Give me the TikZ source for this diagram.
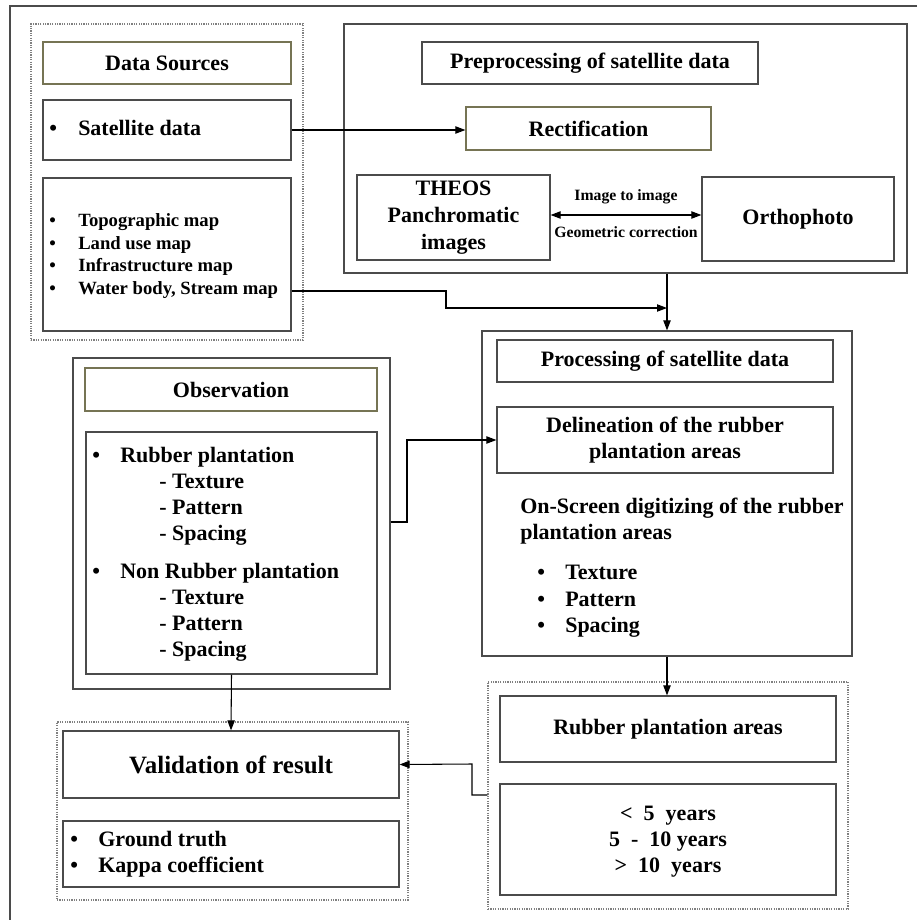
\documentclass[tikz,border=0pt]{standalone}
\usepackage{fontspec}
\setmainfont{Liberation Serif}
\usetikzlibrary{arrows.meta,fit}
\definecolor{olivebd}{RGB}{118,116,84}
\definecolor{linegray}{RGB}{75,75,75}
\begin{document}
\begin{tikzpicture}[x=0.75pt,y=-0.75pt,
  box/.style={draw=linegray, line width=0.9pt, inner sep=0pt},
  hbox/.style={box, draw=olivebd},
  dotbox/.style={draw=gray, line width=0.8pt, dash pattern=on 0.9pt off 0.9pt, inner sep=0pt},
  ctxt/.style={font=\bfseries\fontsize{16.5}{20}\selectfont, inner sep=0pt, align=center, anchor=center},
  txt/.style={font=\bfseries\fontsize{16.5}{20}\selectfont, inner sep=0pt, anchor=base west},
  stxt/.style={font=\bfseries\fontsize{14}{17}\selectfont, inner sep=0pt, anchor=base west},
  lbl/.style={font=\bfseries\fontsize{11.8}{14}\selectfont, inner sep=0pt, anchor=base},
  ytxt/.style={font=\bfseries\fontsize{16.5}{20}\selectfont, inner sep=0pt, anchor=base},
  conn/.style={draw=black, line width=0.8pt, -{Triangle[length=7.5pt,width=5.5pt]}},
]
\useasboundingbox (0,0) rectangle (917,920);
% outer frame (right and bottom edges lie outside the picture)
\draw[linegray, line width=1pt] (917,6) -- (10,6) -- (10,920);

% ---------- Data sources ----------
\node[dotbox, fit={(31,24) (303,340)}] (dsgroup) {};
\node[hbox, fit={(43,42) (291,84)}] (dshead) {};
\node[ctxt] (dsheadt) at (dshead.center) {Data Sources};
\node[box, fit={(43,100) (291,160)}] (satbox) {};
\node[txt] (satb) at (49,136) {\textbullet};
\node[txt] (satt) at (78,136) {Satellite data};
\node[box, fit={(43,178) (291,331)}] (mapsbox) {};
\node[stxt] (m1b) at (49,226) {\textbullet};
\node[stxt] (m1) at (78,226) {Topographic map};
\node[stxt] (m2b) at (49,249) {\textbullet};
\node[stxt] (m2) at (78,249) {Land use map};
\node[stxt] (m3b) at (49,271) {\textbullet};
\node[stxt] (m3) at (78,271) {Infrastructure map};
\node[stxt] (m4b) at (49,294) {\textbullet};
\node[stxt] (m4) at (78,294) {Water body, Stream map};

% ---------- Preprocessing ----------
\node[box, fit={(344,24) (907,273)}] (prepro) {};
\node[box, fit={(422,42) (758,84)}] (prehead) {};
\node[ctxt] (preheadt) at (prehead.center) {Preprocessing of satellite data};
\node[hbox, fit={(466,107) (711,150)}] (rect) {};
\node[ctxt] (rectt) at (rect.center) {Rectification};
\node[box, fit={(357,175) (550,260)}] (theos) {};
\node[ctxt, font=\bfseries\fontsize{16.5}{20}\selectfont] (theost) at (theos.center) {THEOS\\Panchromatic\\images};
\node[box, fit={(702,177) (894,261)}] (ortho) {};
\node[ctxt] (orthot) at (ortho.center) {Orthophoto};
\node[lbl] (imglbl) at (626,200) {Image to image};
\node[lbl] (geolbl) at (626,237) {Geometric correction};

% ---------- Processing ----------
\node[box, fit={(482,331) (852,656)}] (proc) {};
\node[box, fit={(497,340) (833,382)}] (prochead) {};
\node[ctxt] (procheadt) at (prochead.center) {Processing of satellite data};
\node[box, fit={(497,407) (833,473)}] (delin) {};
\node[ctxt, font=\bfseries\fontsize{16.5}{19.5}\selectfont] (delint) at (delin.center) {Delineation of the rubber\\plantation areas};
\node[txt] (on1) at (520,513) {On-Screen digitizing of the rubber};
\node[txt] (on2) at (520,539) {plantation areas};
\node[txt] (p1b) at (537,579) {\textbullet};
\node[txt] (p1) at (565,579) {Texture};
\node[txt] (p2b) at (537,606) {\textbullet};
\node[txt] (p2) at (565,606) {Pattern};
\node[txt] (p3b) at (537,632) {\textbullet};
\node[txt] (p3) at (565,632) {Spacing};

% ---------- Observation ----------
\node[box, fit={(73,358) (390,689)}] (obsout) {};
\node[hbox, fit={(85,368) (377,411)}] (obshead) {};
\node[ctxt] (obsheadt) at (obshead.center) {Observation};
\node[box, fit={(86,432) (377,674)}] (obslist) {};
\node[txt] (o1b) at (92,462) {\textbullet};
\node[txt] (o1) at (120,462) {Rubber plantation};
\node[txt] (o2) at (159,488) {- Texture};
\node[txt] (o3) at (159,514) {- Pattern};
\node[txt] (o4) at (159,540) {- Spacing};
\node[txt] (o5b) at (92,578) {\textbullet};
\node[txt] (o5) at (120,578) {Non Rubber plantation};
\node[txt] (o6) at (159,604) {- Texture};
\node[txt] (o7) at (159,630) {- Pattern};
\node[txt] (o8) at (159,656) {- Spacing};

% ---------- Validation ----------
\node[dotbox, fit={(57,722) (408,900)}] (valgroup) {};
\node[box, fit={(63,731) (399,798)}] (valhead) {};
\node[ctxt, font=\bfseries\fontsize{18.7}{22}\selectfont] (valheadt) at (valhead.center) {Validation of result};
\node[box, fit={(63,821) (399,887)}] (gtbox) {};
\node[txt] (g1b) at (70,846) {\textbullet};
\node[txt] (g1) at (98,846) {Ground truth};
\node[txt] (g2b) at (70,872) {\textbullet};
\node[txt] (g2) at (98,872) {Kappa coefficient};

% ---------- Rubber plantation areas ----------
\node[dotbox, fit={(488,682) (848,909)}] (rubgroup) {};
\node[box, fit={(500,696) (836,762)}] (rubhead) {};
\node[ctxt] (rubheadt) at (rubhead.center) {Rubber plantation areas};
\node[box, fit={(500,784) (836,895)}] (yearbox) {};
\node[ytxt] (y1) at (668,820) {<\ \ 5\ \ years};
\node[ytxt] (y2) at (668,846) {5\ \ -\ \ 10 years};
\node[ytxt] (y3) at (668,872) {>\ \ 10\ \ years};

% ---------- Connectors ----------
\draw[conn] (satbox.east) -- (satbox.east -| rect.west);
\draw[draw=black, line width=0.8pt, {Triangle[length=7.5pt,width=5.5pt]}-{Triangle[length=7.5pt,width=5.5pt]}]
  (theos.east |- 0,215) -- (ortho.west |- 0,215);
\draw[conn] (proc.north |- prepro.south) -- (proc.north);
\coordinate (mjoin) at (proc.north |- 0,308);
\draw[conn] (mapsbox.east |- 0,291) -- (446,291) -- (446,308) -- (mjoin);
\draw[conn] (obsout.east |- 0,522) -- (407,522) -- (407,440) -- (delin.west);
\draw[conn] (obslist.south) -- (valhead.north);
\draw[conn] (proc.south) -- (proc.south |- rubhead.north);
\draw[conn] (rubgroup.west |- 0,795) -- (472,795) -- (472,764) -- (valhead.east);
\end{tikzpicture}
\end{document}
